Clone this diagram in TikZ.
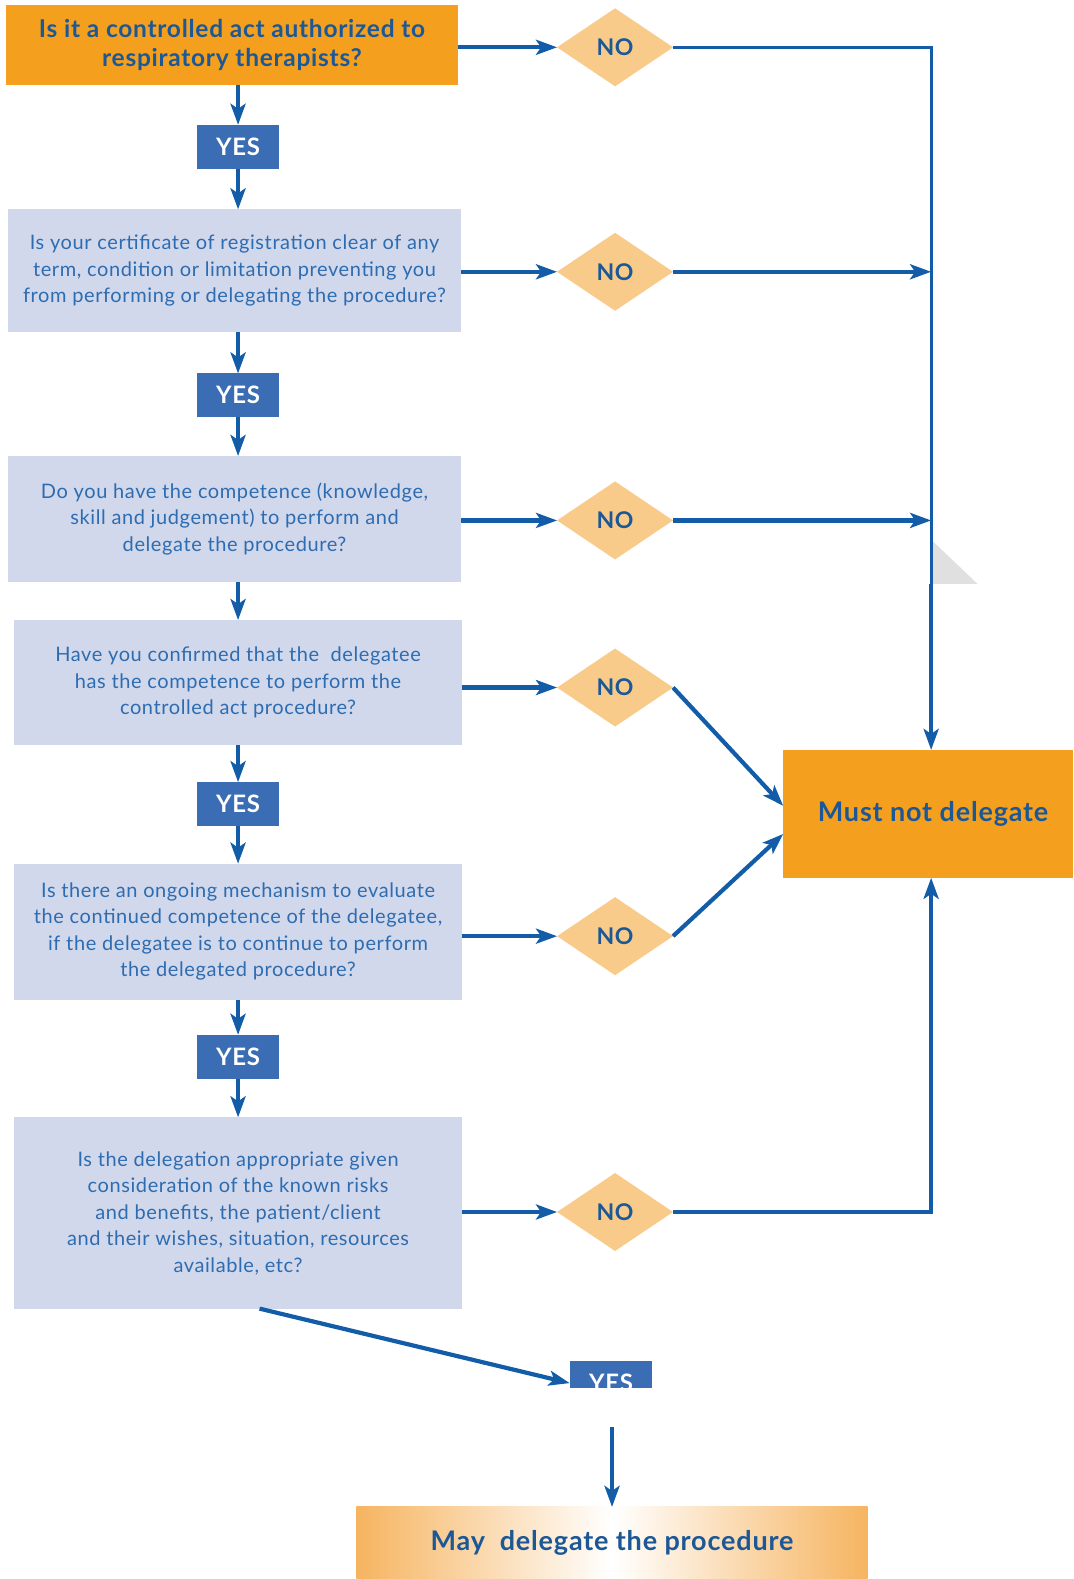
\documentclass[tikz,border=0pt]{standalone}
\usepackage{fontspec}
\setmainfont{Lato}
\newfontfamily\spacedfont{Lato}[LetterSpace=3]
\usetikzlibrary{shapes.geometric,arrows.meta,calc}
\definecolor{ctOrange}{RGB}{244,160,30}
\definecolor{ctPale}{RGB}{210,216,236}
\definecolor{ctYes}{RGB}{58,109,180}
\definecolor{ctLine}{RGB}{18,92,168}
\definecolor{ctNoFill}{RGB}{249,203,138}
\definecolor{ctText}{RGB}{45,108,176}
\definecolor{ctDark}{RGB}{28,88,150}
\definecolor{ctBand}{RGB}{246,180,96}
\definecolor{ctShadow}{RGB}{224,224,224}

\begin{document}
\begin{tikzpicture}[x=1.0066pt,y=-1.0066pt,
  sized/.style 2 args={minimum width=#1*1.0066pt, minimum height=#2*1.0066pt},
  question/.style={fill=ctPale, inner sep=0pt, outer sep=0pt, align=center, text=ctText,
    font=\spacedfont\fontsize{20}{26.5}\selectfont},
  headbox/.style={fill=ctOrange, inner sep=0pt, outer sep=0pt, align=center, text=ctDark,
    font=\spacedfont\bfseries\fontsize{24.5}{29}\selectfont},
  yesbox/.style={fill=ctYes, inner sep=0pt, outer sep=0pt, text=white,
    font=\spacedfont\bfseries\fontsize{24}{24}\selectfont},
  nodiamond/.style={diamond, fill=ctNoFill, inner sep=0pt, outer sep=0pt,
    minimum width=116pt, minimum height=78pt, text=ctDark,
    font=\spacedfont\bfseries\fontsize{23}{23}\selectfont},
  flow/.style={draw=ctLine, line width=4.2pt, -{Stealth[length=21pt,width=15pt,inset=5pt]}},
  rail/.style={draw=ctLine, line width=3pt},
]
\useasboundingbox (0,0) rectangle (1066,1568.6);

% question column
\node[headbox, sized={449}{79}] (q1) at (230.5,44.5) {Is it a controlled act authorized to\\respiratory therapists?};
\node[yesbox, sized={81}{44}] (y1) at (236.5,146) {YES};
\node[question, sized={450}{122}] (q2) at (233,269) {Is your certificate of registration clear of any\\term, condition or limitation preventing you\\from performing or delegating the procedure?};
\node[yesbox, sized={81}{43}] (y2) at (236.5,392.5) {YES};
\node[question, sized={450}{125}] (q3) at (233,515.5) {Do you have the competence (knowledge,\\skill and judgement) to perform and\\delegate the procedure?};
\node[question, sized={445}{124}] (q4) at (236.5,678) {Have you confirmed that the \ delegatee\\has the competence to perform the\\controlled act procedure?};
\node[yesbox, sized={81}{44}] (y3) at (236.5,799) {YES};
\node[question, sized={445}{135}] (q5) at (236.5,925.5) {Is there an ongoing mechanism to evaluate\\the continued competence of the delegatee,\\if the delegatee is to continue to perform\\the delegated procedure?};
\node[yesbox, sized={81}{44}] (y4) at (236.5,1050) {YES};
\node[question, sized={445}{190}] (q6) at (236.5,1205) {Is the delegation appropriate given\\consideration of the known risks\\and benefits, the patient/client\\and their wishes, situation, resources\\available, etc?};

% NO decisions
\node[nodiamond] (n1) at (611,47) {NO};
\node[nodiamond] (n2) at (611,270) {NO};
\node[nodiamond] (n3) at (611,517) {NO};
\node[nodiamond] (n4) at (611,683) {NO};
\node[nodiamond] (n5) at (611,930) {NO};
\node[nodiamond] (n6) at (611,1204) {NO};

% outcomes
\node[headbox, font=\spacedfont\bfseries\fontsize{27}{27}\selectfont, sized={288}{127}] (stop) at (922,808.5) {\hspace*{10pt}Must not delegate};
\begin{scope}
  \clip (556,1340) rectangle (660,1378);
  \node[yesbox, sized={82}{44}] (y5) at (607,1374) {YES};
\end{scope}
\node[shade, left color=ctBand, right color=ctBand, middle color=white, inner sep=0pt, outer sep=0pt,
  text=ctDark, font=\spacedfont\bfseries\fontsize{27}{27}\selectfont, sized={508}{71}] (go) at (608,1532.5) {May\ \ delegate the procedure};

% right-hand collector rail
\coordinate (jTop) at (925,47);
\coordinate (jBrk) at (925,580);
\coordinate (drop) at (608,1418);
\fill[ctShadow] (927,538) -- (927,580) -- (971,580) -- cycle;
\draw[rail] (n1.east) -| (jBrk);
\draw[flow] (jBrk) -- (jBrk |- stop.north);

% YES path
\draw[flow] (q1.south -| y1.north) -- (y1.north);
\draw[flow] (y1.south) -- (q2.north -| y1.south);
\draw[flow] (q2.south -| y2.north) -- (y2.north);
\draw[flow] (y2.south) -- (q3.north -| y2.south);
\draw[flow] (q3.south -| y2.south) -- (q4.north -| y2.south);
\draw[flow] (q4.south -| y3.north) -- (y3.north);
\draw[flow] (y3.south) -- (q5.north -| y3.south);
\draw[flow] (q5.south -| y4.north) -- (y4.north);
\draw[flow] (y4.south) -- (q6.north -| y4.south);
\draw[flow] ($(q6.south west)!0.548!(q6.south east)$) -- (y5.west);
\draw[flow] (drop) -- (go.north);

% NO paths
\draw[flow] (q1.east |- n1) -- (n1.west);
\draw[flow] (q2.east |- n2) -- (n2.west);
\draw[flow] (q3.east |- n3) -- (n3.west);
\draw[flow] (q4.east |- n4) -- (n4.west);
\draw[flow] (q5.east |- n5) -- (n5.west);
\draw[flow] (q6.east |- n6) -- (n6.west);
\draw[flow] (n2.east) -- (n2.east -| jTop);
\draw[flow] (n3.east) -- (n3.east -| jTop);
\draw[flow] (n4.east) -- ($(stop.west)+(0,-8)$);
\draw[flow] (n5.east) -- ($(stop.west)+(0,20)$);
\draw[flow] (n6.east) -| (jTop |- stop.south);
\end{tikzpicture}
\end{document}
